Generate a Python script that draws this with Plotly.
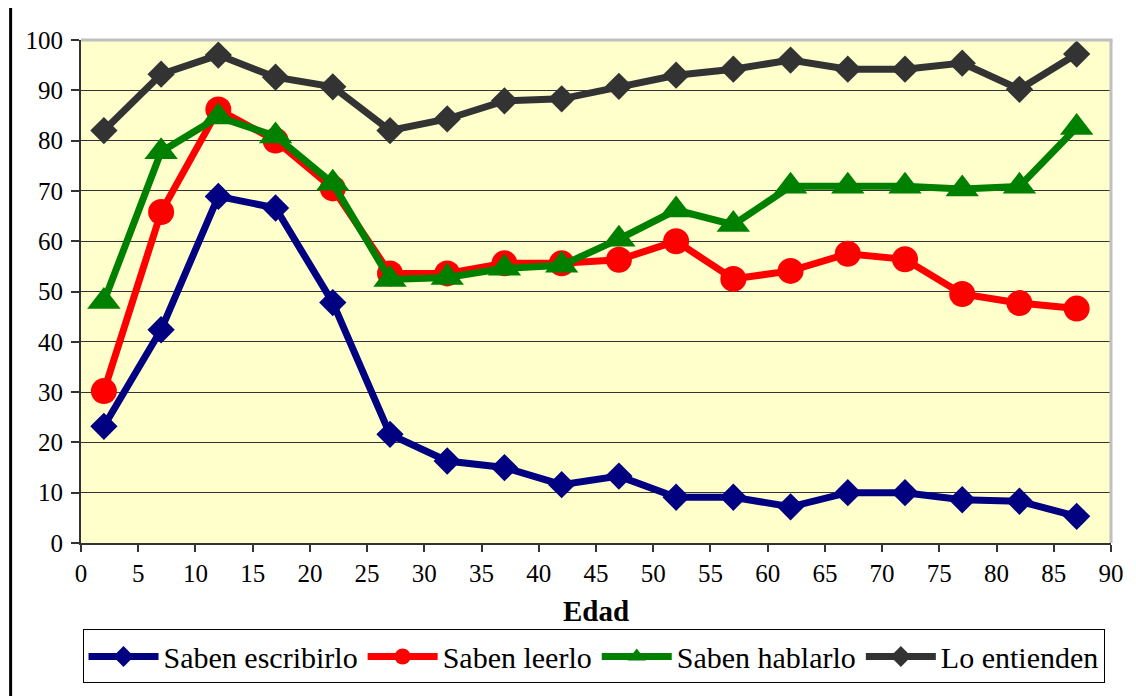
import plotly.graph_objects as go

edad = [2, 7, 12, 17, 22, 27, 32, 37, 42, 47, 52, 57, 62, 67, 72, 77, 82, 87]

saben_escribirlo = [23.2, 42.4, 68.9, 66.6, 47.8, 21.6, 16.3, 15.0, 11.6, 13.3, 9.1, 9.1, 7.2, 10.0, 10.0, 8.6, 8.3, 5.3]
saben_leerlo = [30.2, 65.8, 86.2, 80.0, 70.5, 53.6, 53.6, 55.6, 55.6, 56.3, 60.0, 52.5, 54.1, 57.5, 56.4, 49.5, 47.7, 46.6]
saben_hablarlo = [48.0, 77.8, 84.7, 80.9, 71.5, 52.4, 52.8, 54.6, 55.2, 60.4, 66.2, 63.3, 70.9, 70.9, 70.9, 70.4, 70.9, 82.6]
lo_entienden = [82.0, 93.2, 97.0, 92.6, 90.7, 82.0, 84.3, 87.9, 88.3, 90.8, 93.0, 94.2, 96.0, 94.2, 94.2, 95.4, 90.2, 97.2]

series_names = ["Saben escribirlo", "Saben leerlo", "Saben hablarlo", "Lo entienden"]
x_ticks = list(range(0, 95, 5))
y_ticks = list(range(0, 110, 10))

FONT = "Liberation Serif"

fig = go.Figure()

styles = [
    (saben_escribirlo, "#000080", "diamond", 21),
    (saben_leerlo, "#FF0000", "circle", 26),
    (saben_hablarlo, "#008000", "triangle-up", 29),
    (lo_entienden, "#333333", "diamond", 21),
]

for name, (vals, color, sym, size) in zip(series_names, styles):
    fig.add_trace(go.Scatter(
        x=edad, y=vals, name=name, mode="lines+markers",
        line=dict(color=color, width=7),
        marker=dict(symbol=sym, size=size, color=color, line=dict(width=0)),
    ))

# page has an 8px body margin, so the figure is drawn 8px smaller
W, H = 1128, 688
L, T, R, B = 73, 32, 16, 150
pw = W - L - R
ph = H - T - B

def px_x(px):
    return (px - 8 - L) / pw

def px_y(py):
    return (H - B - (py - 8)) / ph

fig.update_layout(
    width=W, height=H,
    margin=dict(l=L, r=R, t=T, b=B),
    paper_bgcolor="white",
    plot_bgcolor="#FFFFCC",
    font=dict(family=FONT, size=25, color="black"),
    showlegend=True,
    legend=dict(
        orientation="h", x=px_x(598), xanchor="center", y=px_y(633), yanchor="top",
        bgcolor="white", bordercolor="black", borderwidth=1,
        font=dict(family=FONT, size=30, color="black"),
        itemwidth=70, tracegroupgap=0,
    ),
    xaxis=dict(
        range=[0, 90], tickvals=x_ticks, ticktext=[str(v) for v in x_ticks],
        showgrid=False, zeroline=False,
        showline=True, linecolor="#333333", linewidth=2,
        ticks="outside", ticklen=7, tickwidth=1.5, tickcolor="#333333",
        tickfont=dict(family=FONT, size=25, color="black"),
        title=dict(text="<b>Edad</b>", font=dict(family=FONT, size=29, color="black"), standoff=15),
    ),
    yaxis=dict(
        range=[0, 100], tickvals=y_ticks, ticktext=[str(v) for v in y_ticks],
        showgrid=True, gridcolor="#333333", gridwidth=1, zeroline=False,
        showline=True, linecolor="#333333", linewidth=2,
        ticks="outside", ticklen=8, tickwidth=1.5, tickcolor="#333333",
        tickfont=dict(family=FONT, size=25, color="black"),
        ticklabelstandoff=3,
    ),
)

# plot-area border (top and right) in light grey
fig.add_shape(type="line", xref="paper", yref="paper", x0=0, x1=1.0015, y0=1, y1=1,
              line=dict(color="#C0C0C0", width=3), layer="above")
fig.add_shape(type="line", xref="paper", yref="paper", x0=1, x1=1, y0=0, y1=1,
              line=dict(color="#C0C0C0", width=3), layer="above")

# outer chart frame (top and left)
fig.add_shape(type="line", xref="paper", yref="paper", x0=px_x(10), x1=px_x(1140), y0=px_y(4), y1=px_y(4),
              line=dict(color="black", width=3))
fig.add_shape(type="line", xref="paper", yref="paper", x0=px_x(10), x1=px_x(10), y0=px_y(4), y1=px_y(700),
              line=dict(color="black", width=3))

fig.write_html("out.html")
